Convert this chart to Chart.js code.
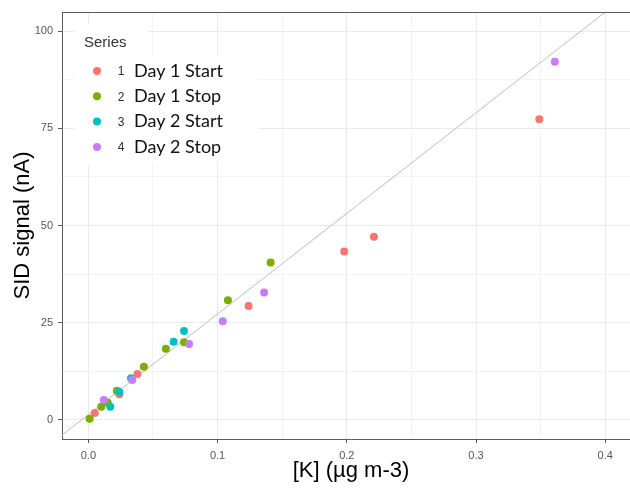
<!DOCTYPE html>
<html lang="en">
<head>
<meta charset="UTF-8" />
<title>SID signal vs [K]</title>
<script src="https://cdn.jsdelivr.net/npm/chart.js@4"></script>
<style>
  html, body { margin: 0; padding: 0; background: #fff; overflow: hidden; }
</style>
</head>
<body>
<canvas id="myChart" width="644" height="488"></canvas>
<script>
// values
const seriesNames = ['Day 1 Start', 'Day 1 Stop', 'Day 2 Start', 'Day 2 Stop'];
const seriesColors = ['#F8766D', '#7CAE00', '#00BFC4', '#C77CFF'];

const day1StartK   = [0.005, 0.024, 0.038, 0.124, 0.198, 0.221, 0.349];
const day1StartSID = [1.8, 6.6, 11.8, 29.3, 43.3, 47.1, 77.3];

const day1StopK   = [0.001, 0.010, 0.015, 0.022, 0.043, 0.060, 0.074, 0.108, 0.141];
const day1StopSID = [0.3, 3.4, 4.4, 7.5, 13.7, 18.3, 20.0, 30.8, 40.5];

const day2StartK   = [0.017, 0.024, 0.033, 0.066, 0.074];
const day2StartSID = [3.4, 7.2, 10.7, 20.1, 22.9];

const day2StopK   = [0.012, 0.034, 0.078, 0.104, 0.136, 0.361];
const day2StopSID = [5.1, 10.3, 19.5, 25.4, 32.8, 92.1];

// grey reference line
const lineK   = [-0.03, 0.45];
const lineSID = [-6.4, 117.8];

const xTicks = [0, 0.05, 0.1, 0.15, 0.2, 0.25, 0.3, 0.35, 0.4];
const yTicks = [0, 12.5, 25, 37.5, 50, 62.5, 75, 87.5, 100];

const axisFont = "'Liberation Sans', Arial, sans-serif";

function toPoints(xs, ys) {
  return xs.map((x, i) => ({ x: x, y: ys[i] }));
}

const seriesK = [day1StartK, day1StopK, day2StartK, day2StopK];
const seriesSID = [day1StartSID, day1StopSID, day2StartSID, day2StopSID];

const datasets = seriesNames.map((name, i) => ({
  label: name,
  data: toPoints(seriesK[i], seriesSID[i]),
  backgroundColor: seriesColors[i],
  borderWidth: 0,
  pointRadius: 4,
  order: 4 - i
}));

datasets.push({
  type: 'line',
  label: 'fit',
  data: toPoints(lineK, lineSID),
  borderColor: '#bdbdbd',
  borderWidth: 1,
  pointRadius: 0,
  order: 10
});

function isMajorX(v) { return Math.abs(v * 10 - Math.round(v * 10)) < 1e-6; }
function isMajorY(v) { return Math.abs(v / 25 - Math.round(v / 25)) < 1e-6; }

// top panel border + the legend box sitting inside the panel
const panelExtras = {
  id: 'panelExtras',
  afterDraw(chart) {
    const ctx = chart.ctx;
    const a = chart.chartArea;
    ctx.save();
    ctx.strokeStyle = '#5a5a5a';
    ctx.lineWidth = 1;
    ctx.beginPath();
    ctx.moveTo(a.left, a.top + 0.5);
    ctx.lineTo(a.right, a.top + 0.5);
    ctx.stroke();

    const lx = a.left;
    const ly = a.top;
    ctx.fillStyle = '#fff';
    ctx.fillRect(lx + 13, ly + 12, 73, 141);
    ctx.fillRect(lx + 86, ly + 44, 110, 106);

    ctx.fillStyle = '#333';
    ctx.font = '15px ' + axisFont;
    ctx.textBaseline = 'middle';
    ctx.textAlign = 'left';
    ctx.fillText('Series', lx + 22, ly + 31);

    seriesNames.forEach((name, i) => {
      const y = ly + 59 + i * 25.3;
      ctx.fillStyle = seriesColors[i];
      ctx.beginPath();
      ctx.arc(lx + 35, y, 4, 0, Math.PI * 2);
      ctx.fill();
      ctx.fillStyle = '#2a2a3a';
      ctx.font = '12px ' + axisFont;
      ctx.textAlign = 'center';
      ctx.fillText(String(i + 1), lx + 59, y + 1);
      ctx.fillStyle = '#111';
      ctx.font = '18px Lato, sans-serif';
      ctx.textAlign = 'left';
      ctx.fillText(name, lx + 72, y);
    });
    ctx.restore();
  }
};

const ctx = document.getElementById('myChart').getContext('2d');
const myChart = new Chart(ctx, {
  type: 'scatter',
  data: { datasets: datasets },
  options: {
    responsive: false,
    animation: false,
    devicePixelRatio: 1,
    layout: { padding: { top: 12, left: 0, right: 0, bottom: 0 } },
    plugins: {
      legend: { display: false },
      tooltip: { enabled: false }
    },
    scales: {
      x: {
        type: 'linear',
        min: -0.0204,
        max: 0.4269,
        afterBuildTicks: scale => { scale.ticks = xTicks.map(v => ({ value: v })); },
        afterFit: scale => { scale.height = 49; },
        grid: {
          color: c => isMajorX(c.tick.value) ? '#ebebeb' : '#f3f3f3',
          tickColor: c => isMajorX(c.tick.value) ? '#5a5a5a' : 'rgba(0,0,0,0)',
          tickLength: 4
        },
        border: { display: true, color: '#5a5a5a', width: 1 },
        ticks: {
          autoSkip: false,
          maxRotation: 0,
          padding: 6,
          color: '#555',
          font: { family: axisFont, size: 11 },
          callback: v => isMajorX(v) ? v.toFixed(1) : ''
        },
        title: {
          display: true,
          text: '[K] (µg m-3)',
          color: '#000',
          font: { family: axisFont, size: 22 },
          padding: { top: 0, bottom: 4 }
        }
      },
      y: {
        type: 'linear',
        min: -4.9,
        max: 104.9,
        afterBuildTicks: scale => { scale.ticks = yTicks.map(v => ({ value: v })); },
        afterFit: scale => { scale.width = 62; },
        grid: {
          color: c => isMajorY(c.tick.value) ? '#ebebeb' : '#f3f3f3',
          tickColor: c => isMajorY(c.tick.value) ? '#5a5a5a' : 'rgba(0,0,0,0)',
          tickLength: 4
        },
        border: { display: true, color: '#5a5a5a', width: 1 },
        ticks: {
          autoSkip: false,
          padding: 5,
          color: '#555',
          font: { family: axisFont, size: 11 },
          callback: v => isMajorY(v) ? String(v) : ''
        },
        title: {
          display: true,
          text: 'SID signal (nA)',
          color: '#000',
          font: { family: axisFont, size: 22 },
          padding: { top: 10, bottom: 0 }
        }
      }
    }
  },
  plugins: [panelExtras]
});
</script>
</body>
</html>
